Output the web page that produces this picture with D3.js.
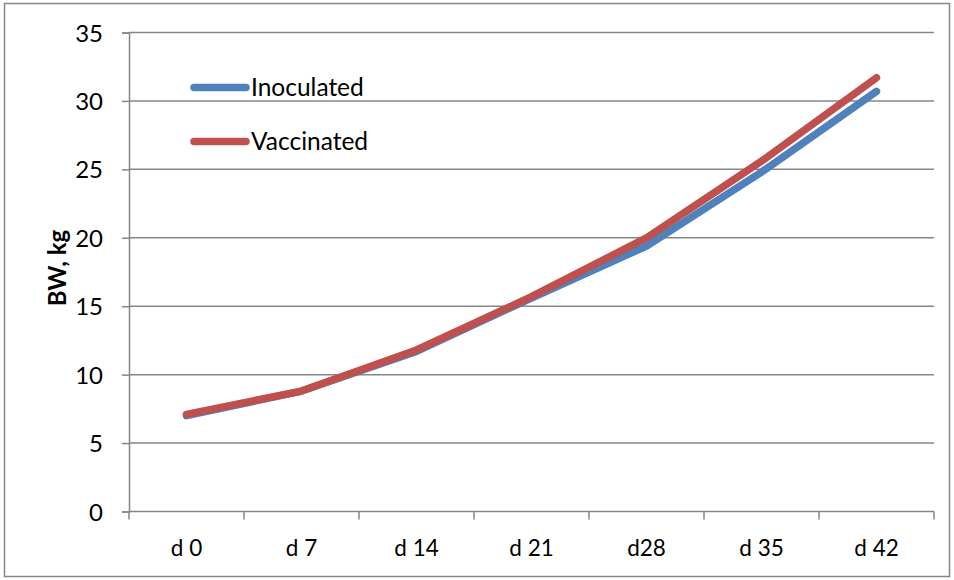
<!DOCTYPE html>
<html>
<head>
<meta charset="utf-8">
<script src="https://cdn.jsdelivr.net/npm/d3@7"></script>
<style>
  html, body { margin: 0; padding: 0; background: #fff; }
  svg { display: block; font-family: Lato, "Open Sans", sans-serif; }
</style>
</head>
<body>
<svg id="chart" width="954" height="580"></svg>
<script>
// Body weight over time, two groups
const days = ["d 0", "d 7", "d 14", "d 21", "d28", "d 35", "d 42"];
const inoculated = [7.0, 8.8, 11.7, 15.6, 19.4, 24.8, 30.7];
const vaccinated = [7.1, 8.8, 11.8, 15.7, 20.0, 25.6, 31.7];
const yTicks = [0, 5, 10, 15, 20, 25, 30, 35];
const seriesNames = ["Inoculated", "Vaccinated"];
const seriesColors = ["#4F81BD", "#C0504D"];

const svg = d3.select("#chart");
const W = 954, H = 580;
const m = { left: 129, right: 20, top: 32.5, bottom: 68.5 };

// outer frame
svg.append("rect")
  .attr("x", 4.5).attr("y", 3.5)
  .attr("width", W - 9).attr("height", H - 7)
  .attr("fill", "#fff").attr("stroke", "#868686").attr("stroke-width", 1.5);

const x = d3.scaleBand().domain(days).range([m.left, W - m.right]).padding(0);
const y = d3.scaleLinear().domain([0, 35]).range([H - m.bottom, m.top]);

// horizontal gridlines
svg.append("g")
  .selectAll("line")
  .data(yTicks.filter(t => t > 0))
  .join("line")
  .attr("x1", m.left).attr("x2", W - m.right)
  .attr("y1", d => y(d)).attr("y2", d => y(d))
  .attr("stroke", "#868686").attr("stroke-width", 1.5);

// y axis
const yAxis = svg.append("g")
  .attr("transform", `translate(${m.left},0)`)
  .call(d3.axisLeft(y).tickValues(yTicks).tickSize(7).tickPadding(19).tickFormat(d3.format("d")));
yAxis.select(".domain").attr("stroke", "#868686").attr("stroke-width", 1.5);
yAxis.selectAll(".tick line").attr("stroke", "#868686").attr("stroke-width", 1.5);
yAxis.selectAll("text").attr("font-size", 24).attr("fill", "#000")
  .attr("font-family", "Lato, sans-serif").attr("dy", "0.36em");

// x axis with tick marks between categories
const xg = svg.append("g").attr("transform", `translate(0,${y(0)})`);
xg.append("line")
  .attr("x1", m.left).attr("x2", W - m.right)
  .attr("stroke", "#868686").attr("stroke-width", 1.5);
const boundaries = days.map(d => x(d)).concat([x(days[days.length - 1]) + x.bandwidth()]);
xg.selectAll("line.tk").data(boundaries).join("line")
  .attr("class", "tk")
  .attr("x1", d => d).attr("x2", d => d)
  .attr("y1", 0).attr("y2", 8)
  .attr("stroke", "#868686").attr("stroke-width", 1.5);
xg.selectAll("text").data(days).join("text")
  .attr("x", d => x(d) + x.bandwidth() / 2)
  .attr("y", 44.5)
  .attr("text-anchor", "middle")
  .attr("font-size", 22.5)
  .attr("fill", "#000")
  .text(d => d);

// y axis title
svg.append("text")
  .attr("transform", `translate(66,268) rotate(-90)`)
  .attr("text-anchor", "middle")
  .attr("font-size", 24)
  .attr("font-weight", "bold")
  .attr("fill", "#000")
  .text("BW, kg");

// series lines
const line = d3.line()
  .x((d, i) => x(days[i]) + x.bandwidth() / 2)
  .y(d => y(d));

[inoculated, vaccinated].forEach((vals, i) => {
  svg.append("path")
    .datum(vals)
    .attr("d", line)
    .attr("fill", "none")
    .attr("stroke", seriesColors[i])
    .attr("stroke-width", 7.5)
    .attr("stroke-linecap", "round")
    .attr("stroke-linejoin", "round");
});

// legend
const legend = svg.append("g");
seriesNames.forEach((name, i) => {
  const ly = 87.5 + i * 54;
  legend.append("line")
    .attr("x1", 194).attr("x2", 246)
    .attr("y1", ly).attr("y2", ly)
    .attr("stroke", seriesColors[i])
    .attr("stroke-width", 7.5)
    .attr("stroke-linecap", "round");
  legend.append("text")
    .attr("x", 251).attr("y", ly + 8.5)
    .attr("font-size", 24.5)
    .attr("fill", "#000")
    .text(name);
});
</script>
</body>
</html>
